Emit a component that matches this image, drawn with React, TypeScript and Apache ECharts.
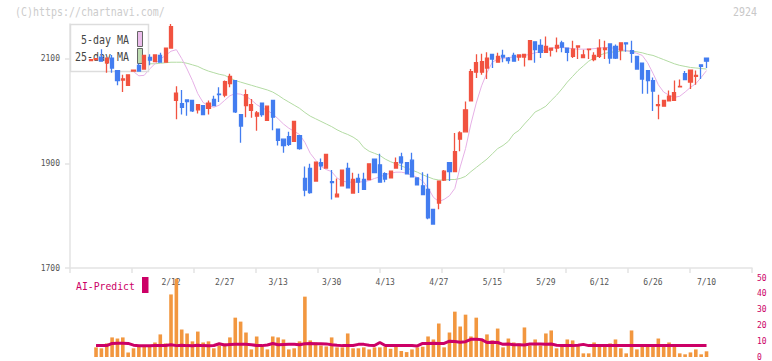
import React, { useEffect, useRef } from "react";
import * as echarts from "echarts";

// ---- candle data (116 trading days) ----
const openP = [2096,2098,2102.5,2092,2101,2077,2059,2049,2076,2087,2080,2102,2094,2106,2093,2120,2020,2014,2021,2020,2002,2010,2005,2022,2032,2030,2052,2058,1993,2010,2001,1990,2015,1982,2020,1965,1946,1951,1942,1953,1871,1890,1866,1901,1891,1865,1836,1857,1890,1843,1871,1869,1869,1908,1897,1880,1872,1891,1912,1901,1906,1872,1857,1850,1812,1824,1868,1901,1884,1946,1960,2019,2074,2074,2082,2108,2093,2106,2101,2106,2103,2103,2098,2132,2125,2112,2116,2120,2130,2120,2104,2122,2102,2117,2098,2104,2117,2128,2123,2116,2130,2115,2104,2091,2077,2058,2010,2009,2019,2020,2046,2071,2055,2066,2088,2101];
const closeP = [2098,2100,2095,2101,2082,2058,2061,2069,2078,2076,2106,2097,2107,2093,2120,2161,2034,2007,2018,2000,2012,1993,2015,2010,2031,2056,2066,1998,1971,2031,2012,1996,1993,2009,1988,1944,1934,1936,1980,1928,1849,1844,1902,1895,1917,1863,1841,1887,1853,1869,1864,1850,1899,1882,1864,1870,1885,1901,1901,1880,1874,1859,1840,1796,1784,1866,1885,1884,1922,1958,2002,2075,2092,2094,2101,2099,2104,2103,2096,2095,2107,2108,2134,2117,2112,2123,2120,2125,2122,2112,2118,2124,2107,2118,2106,2120,2120,2101,2101,2130,2128,2110,2080,2061,2058,2038,2012,2020,2028,2035,2047,2060,2078,2068,2085,2095];
const lowP = [2095,2097,2095,2073,2073,2049,2036,2048,2075,2076,2080,2087,2093,2093,2092,2120,1984,1993,1991,1998,1995,1993,1993,2010,2017,2026,2045,1996,1939,1988,1987,1962,1989,1981,1963,1934,1920,1933,1942,1926,1837,1842,1866,1887,1890,1831,1836,1857,1853,1843,1843,1850,1869,1881,1864,1864,1872,1891,1887,1879,1874,1859,1840,1793,1783,1812,1866,1866,1883,1923,1959,2018,2063,2069,2061,2082,2092,2093,2090,2095,2096,2085,2098,2092,2101,2111,2104,2112,2112,2095,2101,2099,2102,2099,2095,2101,2099,2090,2099,2097,2113,2092,2080,2033,2033,2000,1984,2009,2018,2020,2046,2060,2042,2050,2061,2082];
const highP = [2099,2101,2118,2101,2107,2077,2069,2070,2079,2090,2106,2108,2108,2111,2121,2166,2047,2040,2021,2020,2013,2010,2020,2029,2045,2058,2071,2058,1994,2041,2023,2000,2016,2009,2020,1965,1946,1960,1980,1953,1894,1899,1903,1909,1917,1887,1871,1887,1901,1882,1880,1882,1899,1908,1918,1883,1885,1911,1920,1901,1920,1872,1883,1880,1812,1866,1887,1901,1958,1961,2018,2080,2108,2109,2112,2108,2111,2117,2103,2111,2108,2108,2135,2133,2137,2142,2121,2140,2134,2120,2134,2124,2117,2119,2112,2137,2134,2128,2127,2130,2130,2134,2104,2091,2077,2064,2031,2020,2039,2058,2060,2076,2078,2077,2088,2101];

// moving averages (null = not drawn)
const ma5 = [null,null,null,null,null,null,null,null,2075,2067,2068,2080,2090,2099,2106,2114,2117,2100,2080,2058,2033,2016,2010,2007,2011,2020,2029,2033,2032,2028,2021,2012,2006,2001,1994,1985,1975,1967,1961,1955,1940,1919,1906,1894,1888,1884,1872,1866,1864,1864,1864,1865,1867,1871,1874,1878,1881,1883,1883,1881,1877,1873,1866,1853,1835,1827,1831,1838,1852,1893,1928,1975,2015,2048,2073,2093,2099,2100,2102,2103,2104,2106,2108,2111,2113,2117,2120,2121,2121,2120,2119,2118,2118,2118,2119,2120,2121,2121,2119,2117,2115,2113,2110,2106,2092,2072,2050,2036,2030,2026,2028,2036,2045,2052,2064,2077];
const ma25 = [null,null,null,null,null,null,null,null,null,null,null,2090,2090,2091,2092,2093,2093,2093,2091,2088,2085,2080,2076,2073,2070,2068,2063,2058,2055,2052,2049,2046,2043,2040,2036,2030,2023,2017,2011,2005,1997,1990,1985,1980,1975,1970,1964,1959,1955,1950,1943,1930,1923,1919,1915,1908,1903,1899,1895,1891,1887,1883,1878,1874,1870,1868,1868,1869,1869,1871,1875,1884,1892,1900,1908,1918,1928,1934,1942,1956,1963,1975,1986,1998,2003,2009,2020,2030,2042,2055,2066,2077,2086,2095,2101,2106,2110,2112,2113,2114,2115,2114,2113,2111,2108,2106,2102,2098,2094,2090,2087,2085,2083,2082,2081,2080];

// lower panel (first day has no volume / prediction)
const volume = [null,6.1,5.5,8.6,12.4,11.7,12.4,2.9,5.5,6.7,6.7,7.3,9.2,14.3,8.6,39.6,49.5,17.4,14.9,9.9,16.1,9.2,9.9,5.5,7.3,8.6,12.4,24.9,22.4,15.5,4.8,13,6.7,4.8,13,12.4,11.1,4.8,5.5,9.9,38.2,10.5,9.2,7.3,6.7,12.4,6.1,6.1,14.9,5.5,5.5,6.1,4.8,6.1,6.1,6.5,5.2,6.5,3.8,3.1,4.8,6.1,6.5,13,11.1,21.2,6.1,15.5,28.7,19.3,26.8,13,24.9,11.1,14.3,10.5,18,6.1,11.7,9.2,8.6,18.7,7.3,11.1,7.3,14.9,16.8,5.5,7.3,11.1,10.5,7.3,2.3,2.3,9.2,7.3,7.3,8.6,11.1,5.5,2.3,16.8,4.8,7.3,7.3,7.3,11.7,7.3,9.2,7.3,2.3,1.7,2.9,4.8,1.7,3.6];
const aiPredict = [null,7.3,7.2,7.2,8.6,8.7,8.7,8.6,7.5,7.1,7.1,7.1,7.2,7.2,7.3,7.8,7.2,7.4,7.2,7.1,7.4,7.2,7.1,7.3,8.4,7.6,7.9,8.0,8.0,8.0,7.7,7.3,7.2,7.6,8.5,7.8,7.9,8.0,8.0,7.8,8.4,8.5,8.4,8.4,8.3,7.8,7.4,7.2,7.2,7.3,8.0,8.0,7.5,7.3,9.2,7.3,7.3,7.2,7.3,7.3,7.3,7.0,8.6,8.6,8.7,8.6,8.6,10,9.8,9.4,9.7,11.2,11.3,11.0,9.2,9.3,9.2,8.0,8.2,7.8,7.8,7.6,8.2,8.3,8.2,8.0,8.2,7.4,7.3,7.3,7.2,7.4,8.0,7.2,7.2,7.2,7.2,7.2,7.2,7.2,7.2,7.2,7.2,7.2,7.2,7.2,7.2,7.2,7.2,7.2,7.2,7.2,7.2,7.2,7.2,7.2];

// date labels: [candle index, label]
const dateTicks: [number, string][] = [[15,"2/12"],[25,"2/27"],[35,"3/13"],[45,"3/30"],[55,"4/13"],[65,"4/27"],[75,"5/15"],[85,"5/29"],[95,"6/12"],[105,"6/26"],[115,"7/10"]];
const priceTicks = [1700, 1900, 2100];
const volumeTicks = [0, 10, 20, 30, 40, 50];

const UP = "#F15340";
const DOWN = "#437DF0";
const MONO = "DejaVu Sans Mono, Liberation Mono, monospace";

export default function App() {
  const ref = useRef<HTMLDivElement>(null);
  useEffect(() => {
    document.body.style.margin = "0";
    const chart = echarts.init(ref.current!, null, { renderer: "svg" });
    const cats = openP.map((_, i) => "d" + i);
    const labelMap: Record<number, string> = {};
    dateTicks.forEach(([i, l]) => (labelMap[i] = l));
    const candles = openP.map((o, i) => [o, closeP[i], lowP[i], highP[i]]);
    const candleLeft = 88;
    const candleRight = 62.8;

    const option: any = {
      animation: false,
      grid: [
        { left: 70, right: 20, top: 24, bottom: 93 },
        { left: candleLeft, right: candleRight, top: 24, bottom: 93 },
        { left: candleLeft, right: candleRight, top: 278, bottom: 3.3 },
      ],
      xAxis: [
        {
          type: "value", gridIndex: 0, min: 0, max: 11, interval: 1,
          axisLine: { show: true, lineStyle: { color: "#E3E3E3", width: 1.5 } },
          axisTick: { show: true, length: 5, lineStyle: { color: "#E3E3E3", width: 1.5 } },
          axisLabel: { show: false }, splitLine: { show: false },
        },
        {
          type: "category", gridIndex: 1, data: cats, boundaryGap: true,
          axisLine: { show: false }, axisTick: { show: false }, splitLine: { show: false },
          axisLabel: {
            interval: (idx: number) => labelMap[idx] !== undefined,
            formatter: (_v: string, idx: number) => labelMap[idx] || "",
            margin: 10, fontSize: 8, color: "#555", fontFamily: MONO,
          },
        },
        {
          type: "category", gridIndex: 2, data: cats, boundaryGap: true,
          axisLine: { show: false }, axisTick: { show: false }, axisLabel: { show: false },
          splitLine: { show: false },
        },
      ],
      yAxis: [
        {
          type: "value", gridIndex: 0, min: 1700, max: 2166,
          axisLine: { show: true, lineStyle: { color: "#E3E3E3", width: 1.5 } },
          axisTick: { show: true, length: 5, customValues: priceTicks, lineStyle: { color: "#E3E3E3", width: 1.5 } },
          axisLabel: {
            customValues: priceTicks, margin: 10, fontSize: 8, color: "#555", fontFamily: MONO,
            formatter: (v: number) => String(v),
          },
          splitLine: { show: false },
        },
        {
          type: "value", gridIndex: 1, min: 1700, max: 2166,
          axisLine: { show: false }, axisTick: { show: false }, axisLabel: { show: false },
          splitLine: { show: false },
        },
        {
          type: "value", gridIndex: 2, min: 0, max: 50, position: "right", offset: 752 - (772 - candleRight),
          axisLine: { show: false }, axisTick: { show: false }, splitLine: { show: false },
          axisLabel: {
            customValues: volumeTicks, margin: 5, fontSize: 8, color: "#CC0066", fontFamily: MONO,
            formatter: (v: number) => String(v),
          },
        },
      ],
      series: [
        {
          type: "line", xAxisIndex: 1, yAxisIndex: 1, data: ma25, symbol: "none", z: 2,
          lineStyle: { color: "#B3DBA3", width: 1 }, silent: true,
        },
        {
          type: "line", xAxisIndex: 1, yAxisIndex: 1, data: ma5, symbol: "none", z: 2,
          lineStyle: { color: "#E6B0E6", width: 1 }, silent: true,
        },
        {
          type: "candlestick", xAxisIndex: 1, yAxisIndex: 1, data: candles, z: 5,
          barWidth: 3.6,
          itemStyle: { color: UP, color0: DOWN, borderColor: UP, borderColor0: DOWN, borderWidth: 1.3 },
        },
        {
          type: "bar", xAxisIndex: 2, yAxisIndex: 2, data: volume, barWidth: 3.6,
          itemStyle: { color: "#F2973F" }, z: 2,
        },
        {
          type: "line", xAxisIndex: 2, yAxisIndex: 2, data: aiPredict, symbol: "none", z: 3,
          lineStyle: { color: "#CC0066", width: 3 },
        },
      ],
      graphic: [
        {
          type: "rect", z: 3, shape: { x: 70.5, y: 24.5, width: 78, height: 47 },
          style: { fill: "#FFFFFF", stroke: "#DDDDDD", lineWidth: 1.5 },
        },
        {
          type: "text", z: 4, x: 129, y: 40, scaleX: 0.83,
          style: { text: "5-day MA", x: 0, y: 0, align: "right", verticalAlign: "middle", fontSize: 12, fontFamily: MONO, fill: "#444" },
        },
        {
          type: "text", z: 4, x: 129, y: 57, scaleX: 0.83,
          style: { text: "25-day MA", x: 0, y: 0, align: "right", verticalAlign: "middle", fontSize: 12, fontFamily: MONO, fill: "#444" },
        },
        {
          type: "rect", z: 4, shape: { x: 137.5, y: 31.5, width: 5, height: 15 },
          style: { fill: "#EBBDEB", stroke: "#666", lineWidth: 1 },
        },
        {
          type: "rect", z: 4, shape: { x: 137.5, y: 48.5, width: 5, height: 15 },
          style: { fill: "#BEDDB2", stroke: "#666", lineWidth: 1 },
        },
        {
          type: "text", z: 4, x: 15, y: 12.5, scaleX: 0.83,
          style: { text: "(C)https://chartnavi.com/", x: 0, y: 0, align: "left", verticalAlign: "middle", fontSize: 12, fontFamily: MONO, fill: "#CCCCCC" },
        },
        {
          type: "text", z: 4, x: 757, y: 12, scaleX: 0.83,
          style: { text: "2924", x: 0, y: 0, align: "right", verticalAlign: "middle", fontSize: 12, fontFamily: MONO, fill: "#C8C8C8" },
        },
        {
          type: "text", z: 4, x: 76, y: 286, scaleX: 0.89,
          style: { text: "AI-Predict", x: 0, y: 0, align: "left", verticalAlign: "middle", fontSize: 11, fontFamily: MONO, fill: "#CC0066" },
        },
        {
          type: "rect", z: 4, shape: { x: 142, y: 277, width: 6.5, height: 16 },
          style: { fill: "#CC0066" },
        },
      ],
    };
    chart.setOption(option);
    return () => chart.dispose();
  }, []);
  return <div ref={ref} style={{ width: 772, height: 361 }} />;
}
